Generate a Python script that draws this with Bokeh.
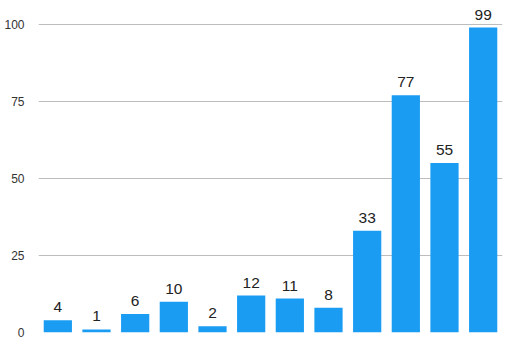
from bokeh.plotting import figure
from bokeh.models import Range1d, ColumnDataSource, FixedTicker
from bokeh.core.properties import value
from bokeh.embed import file_html
from bokeh.resources import INLINE

categories = list(range(12))
values = [4, 1, 6, 10, 2, 12, 11, 8, 33, 77, 55, 99]
y_ticks = [0, 25, 50, 75, 100]

src = ColumnDataSource(dict(x=categories, top=values, label=[str(v) for v in values]))

p = figure(width=505, height=347, output_backend="svg", toolbar_location=None,
           x_range=Range1d(-0.5, 11.5), y_range=Range1d(0, 107.8),
           min_border_left=38, min_border_right=3, min_border_top=0, min_border_bottom=15)
p.outline_line_color = None
p.background_fill_color = "white"
p.border_fill_color = "white"

p.vbar(x="x", top="top", width=0.73, source=src, color="#1b9cf3", line_color=None)
p.text(x="x", y="top", text="label", source=src, y_offset=-8,
       text_align="center", text_baseline="bottom",
       text_font=value("Liberation Sans"), text_font_size="15.5px", text_color="#222222")

p.xaxis.visible = False
p.xgrid.visible = False
p.ygrid.grid_line_color = "#bdbdbd"
p.ygrid.grid_line_width = 1
p.yaxis.ticker = FixedTicker(ticks=y_ticks)
p.yaxis.axis_line_color = None
p.yaxis.major_tick_line_color = None
p.yaxis.minor_tick_line_color = None
p.yaxis.major_tick_out = 0
p.yaxis.major_tick_in = 0
p.yaxis.major_label_standoff = 14
p.yaxis.major_label_text_font = "Liberation Sans"
p.yaxis.major_label_text_font_size = "12px"
p.yaxis.major_label_text_color = "#333333"

open("out.html", "w").write(file_html(p, INLINE))
